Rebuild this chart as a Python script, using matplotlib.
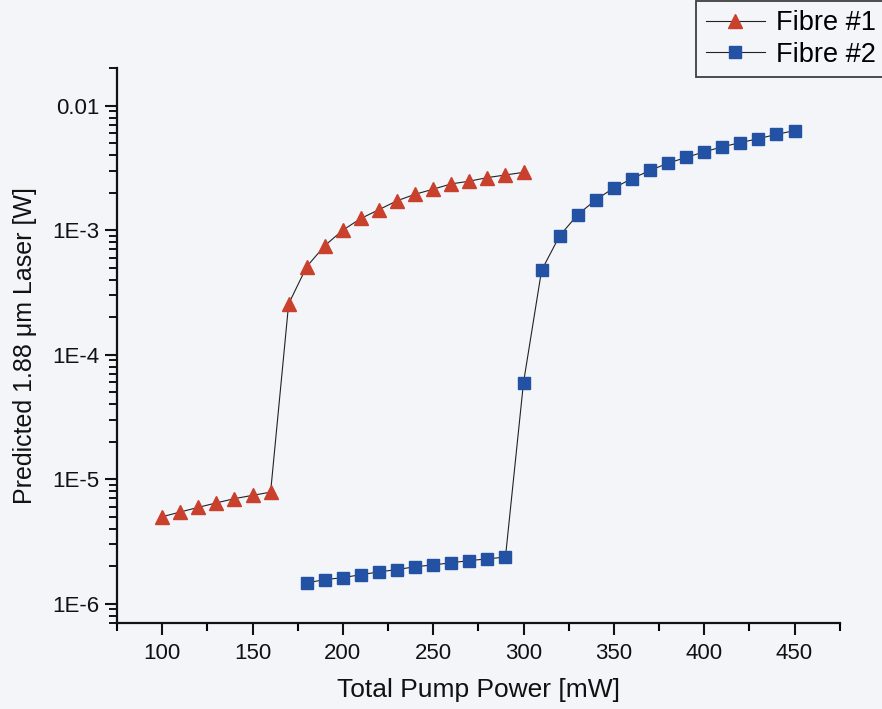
import matplotlib
matplotlib.use("Agg")
import matplotlib.pyplot as plt
from matplotlib.ticker import FixedLocator, LogLocator, FuncFormatter, MultipleLocator, NullFormatter

plt.rcParams['font.family'] = ['Liberation Sans', 'DejaVu Sans']

# Fibre #1: total pump power [mW] and predicted 1.88 um laser power [W]
fibre1_pump = [100, 110, 120, 130, 140, 150, 160, 170, 180, 190, 200,
               210, 220, 230, 240, 250, 260, 270, 280, 290, 300]
fibre1_laser = [4.99e-6, 5.45e-6, 5.94e-6, 6.45e-6, 6.98e-6, 7.41e-6, 7.87e-6,
                2.56e-4, 5.09e-4, 7.5e-4, 1.0e-3, 1.24e-3, 1.46e-3, 1.72e-3,
                1.94e-3, 2.13e-3, 2.35e-3, 2.47e-3, 2.64e-3, 2.77e-3, 2.91e-3]

# Fibre #2
fibre2_pump = [180, 190, 200, 210, 220, 230, 240, 250, 260, 270, 280, 290,
               300, 310, 320, 330, 340, 350, 360, 370, 380, 390, 400, 410,
               420, 430, 440, 450]
fibre2_laser = [1.47e-6, 1.56e-6, 1.62e-6, 1.71e-6, 1.80e-6, 1.88e-6, 1.98e-6,
                2.05e-6, 2.13e-6, 2.22e-6, 2.29e-6, 2.37e-6,
                5.97e-5, 4.75e-4, 9.0e-4, 1.33e-3, 1.75e-3, 2.18e-3, 2.59e-3,
                3.01e-3, 3.45e-3, 3.83e-3, 4.25e-3, 4.66e-3, 5.04e-3, 5.42e-3,
                5.87e-3, 6.29e-3]

y_ticks = [1e-6, 1e-5, 1e-4, 1e-3, 1e-2]
y_tick_labels = ['1E-6', '1E-5', '1E-4', '1E-3', '0.01']

bg = '#f3f5f8'
fig = plt.figure(figsize=(8.82, 7.09), dpi=100, facecolor=bg)
ax = fig.add_axes([0.1327, 0.1213, 0.8193, 0.7827], facecolor=bg)

ax.plot(fibre1_pump, fibre1_laser, color='#222222', lw=0.8, marker='^',
        markersize=10, markerfacecolor='#c9402c', markeredgecolor='#c9402c',
        label='Fibre #1')
ax.plot(fibre2_pump, fibre2_laser, color='#222222', lw=0.8, marker='s',
        markersize=8, markerfacecolor='#2351a3', markeredgecolor='#2351a3',
        label='Fibre #2')

ax.set_yscale('log')
ax.set_xlim(75, 475)
ax.set_ylim(7e-7, 2e-2)

ax.xaxis.set_major_locator(MultipleLocator(50))
ax.xaxis.set_minor_locator(MultipleLocator(25))
ax.set_xticks([100, 150, 200, 250, 300, 350, 400, 450])

ax.yaxis.set_major_locator(FixedLocator(y_ticks))
ax.yaxis.set_major_formatter(FuncFormatter(
    lambda v, pos: y_tick_labels[y_ticks.index(min(y_ticks, key=lambda t: abs(t - v) / t))]))
ax.yaxis.set_minor_locator(LogLocator(base=10, subs=range(2, 10)))
ax.yaxis.set_minor_formatter(NullFormatter())

for side in ('top', 'right'):
    ax.spines[side].set_visible(False)
for side in ('left', 'bottom'):
    ax.spines[side].set_linewidth(1.6)
    ax.spines[side].set_color('#111111')

ax.tick_params(axis='both', which='major', direction='out', length=8.5, width=1.5,
               labelsize=16, colors='#111111')
ax.tick_params(axis='x', which='major', pad=6)
ax.tick_params(axis='y', which='major', pad=4)
ax.tick_params(axis='x', which='minor', direction='out', length=6, width=1.5)
ax.tick_params(axis='y', which='minor', direction='out', length=6, width=1.3)

ax.set_xlabel('Total Pump Power [mW]', fontsize=19, color='#111111', labelpad=10)
ax.set_ylabel('Predicted 1.88 \u03bcm Laser [W]', fontsize=18, color='#111111', labelpad=11)

leg = fig.legend(loc='upper right', bbox_to_anchor=(1.004, 0.999), fontsize=19.5,
                 frameon=True, fancybox=False, edgecolor='#111111',
                 facecolor=bg, handlelength=2.2, borderpad=0.35,
                 labelspacing=0.2, handletextpad=0.4, borderaxespad=0.0)
leg.get_frame().set_linewidth(1.3)

fig.savefig('out.png', dpi=100, facecolor=bg)
